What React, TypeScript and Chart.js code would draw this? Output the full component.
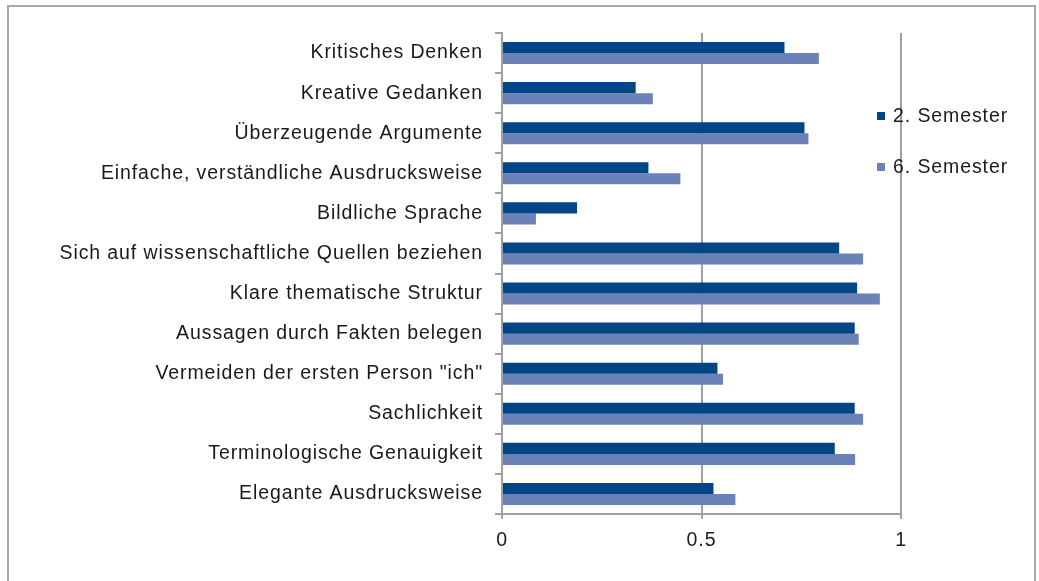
import { useEffect, useRef } from "react";
import { Chart, registerables } from "chart.js";

Chart.register(...registerables);

const categories = [
  "Kritisches Denken",
  "Kreative Gedanken",
  "Überzeugende Argumente",
  "Einfache, verständliche Ausdrucksweise",
  "Bildliche Sprache",
  "Sich auf wissenschaftliche Quellen beziehen",
  "Klare thematische Struktur",
  "Aussagen durch Fakten belegen",
  'Vermeiden der ersten Person "ich"',
  "Sachlichkeit",
  "Terminologische Genauigkeit",
  "Elegante Ausdrucksweise",
];

const semester2 = [0.708, 0.335, 0.758, 0.367, 0.188, 0.845, 0.89, 0.884, 0.54, 0.884, 0.834, 0.53];
const semester6 = [0.794, 0.378, 0.768, 0.447, 0.085, 0.905, 0.947, 0.894, 0.554, 0.905, 0.885, 0.585];

const seriesNames = ["2. Semester", "6. Semester"];
const seriesColors = ["#004586", "#6a82b8"];
const xTickValues = [0, 0.5, 1];

const FONT = "'Liberation Sans', Arial, Helvetica, sans-serif";
const FONT_SIZE = 19.5;
const SPACING = "0.9px";
const AXIS_GRAY = "#a0a0a0";
const TEXT = "#1a1a1a";

const spacingPlugin = {
  id: "letterSpacing",
  beforeDraw(chart: any) {
    chart.ctx.letterSpacing = SPACING;
  },
};

const sideLegendPlugin = {
  id: "sideLegend",
  afterDraw(chart: any) {
    const { ctx, chartArea } = chart;
    ctx.save();
    ctx.letterSpacing = SPACING;
    ctx.font = `${FONT_SIZE}px ${FONT}`;
    ctx.textBaseline = "middle";
    ctx.textAlign = "left";
    chart.data.datasets.forEach((ds: any, i: number) => {
      const y = chartArea.top + 83 + i * 51;
      const x = chartArea.right - 24;
      ctx.fillStyle = ds.backgroundColor;
      ctx.fillRect(x, y - 4, 8, 8);
      ctx.fillStyle = TEXT;
      ctx.fillText(ds.label, x + 16, y + 1);
    });
    ctx.restore();
  },
};

export default function App() {
  const canvasRef = useRef<HTMLCanvasElement | null>(null);

  useEffect(() => {
    if (!canvasRef.current) return;
    const chart = new Chart(canvasRef.current, {
      type: "bar",
      data: {
        labels: categories,
        datasets: [
          { label: seriesNames[0], data: semester2, backgroundColor: seriesColors[0], borderWidth: 0 },
          { label: seriesNames[1], data: semester6, backgroundColor: seriesColors[1], borderWidth: 0 },
        ],
      },
      options: {
        indexAxis: "y",
        responsive: false,
        animation: false,
        events: [],
        layout: { padding: { left: 0, right: 138, top: 33, bottom: 0 } },
        datasets: { bar: { categoryPercentage: 0.55, barPercentage: 1 } },
        plugins: { legend: { display: false }, tooltip: { enabled: false } },
        scales: {
          x: {
            type: "linear",
            min: 0,
            max: 1,
            afterBuildTicks: (scale: any) => {
              scale.ticks = xTickValues.map((v) => ({ value: v }));
            },
            ticks: {
              padding: 10,
              color: TEXT,
              font: { family: FONT, size: FONT_SIZE },
              callback: (v: any) => String(v),
            },
            grid: { color: AXIS_GRAY, lineWidth: 2, tickLength: 5 },
            border: { color: AXIS_GRAY, width: 2 },
            afterFit: (scale: any) => {
              scale.height = 67;
            },
          },
          y: {
            type: "category",
            ticks: {
              padding: 12,
              color: TEXT,
              font: { family: FONT, size: FONT_SIZE },
            },
            grid: { drawOnChartArea: false, tickLength: 7, color: AXIS_GRAY, lineWidth: 2, offset: true },
            border: { color: AXIS_GRAY, width: 2 },
            afterFit: (scale: any) => {
              scale.width = 502;
            },
          },
        },
      } as any,
      plugins: [spacingPlugin, sideLegendPlugin],
    });
    return () => chart.destroy();
  }, []);

  return (
    <div style={{ position: "fixed", left: 0, top: 0, width: 1039, height: 581, background: "#fff", overflow: "hidden" }}>
      <div
        style={{
          position: "absolute",
          left: 7,
          top: 5,
          width: 1029,
          height: 620,
          border: "2px solid #a8a8a8",
          boxSizing: "border-box",
        }}
      />
      <canvas
        ref={canvasRef}
        width={1039}
        height={581}
        style={{ position: "absolute", left: 0, top: 0, width: 1039, height: 581 }}
      />
    </div>
  );
}
